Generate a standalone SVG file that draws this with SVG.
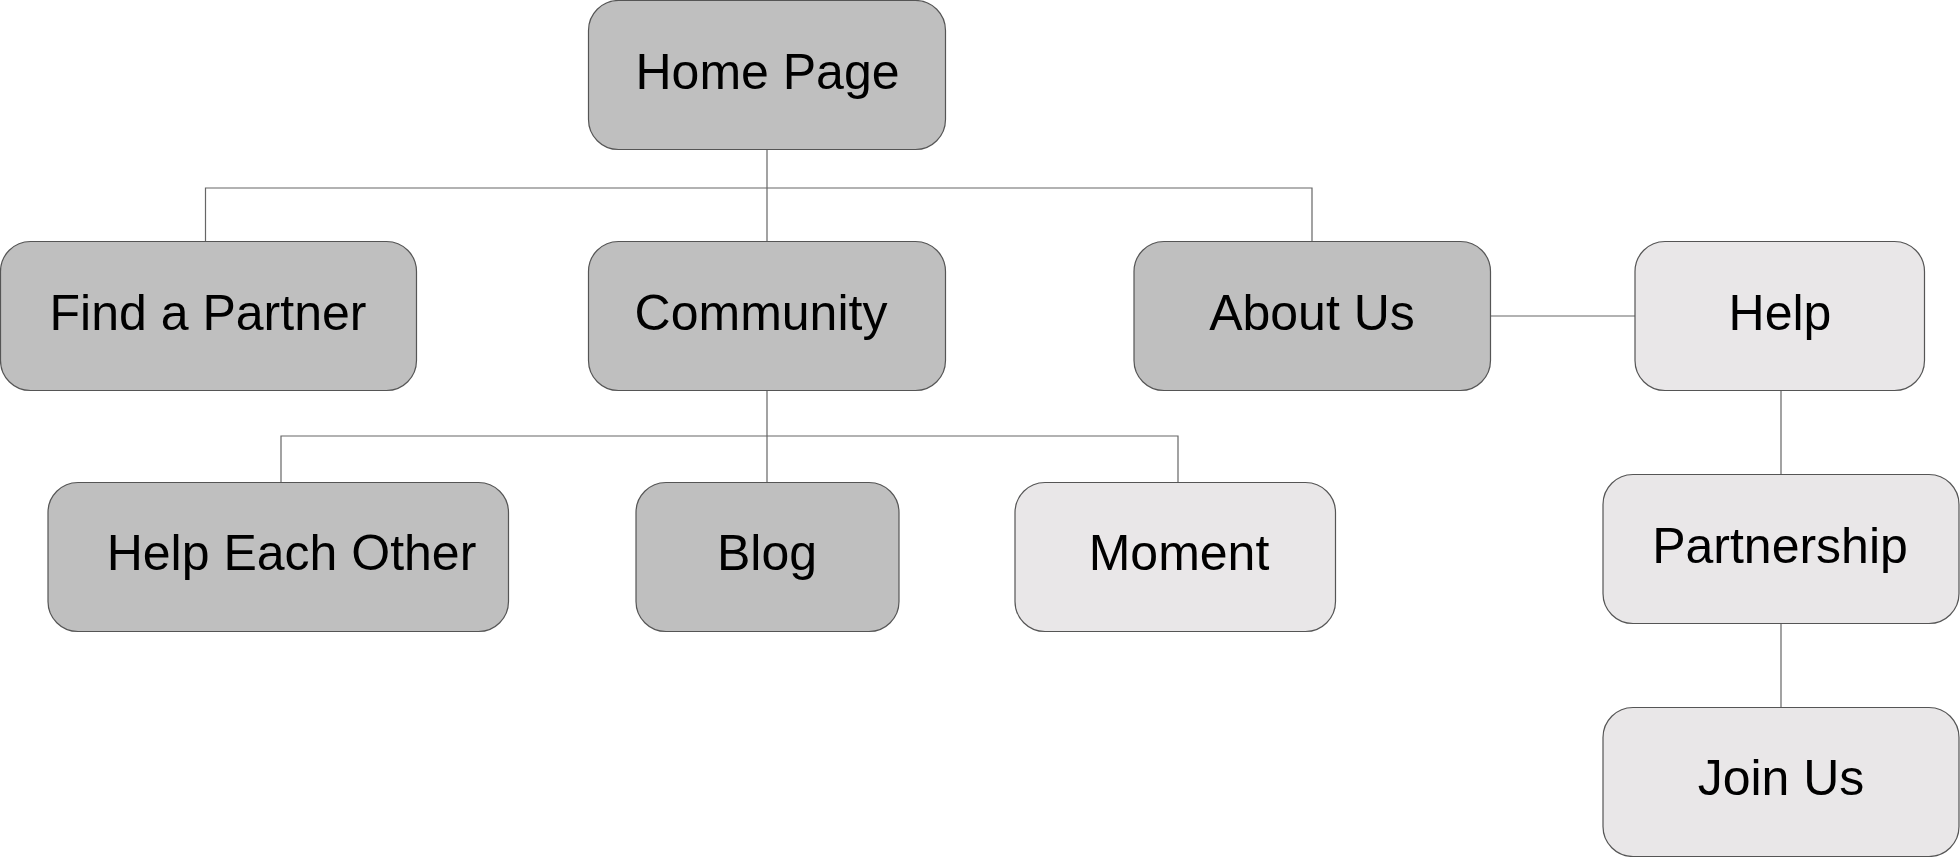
<svg xmlns="http://www.w3.org/2000/svg" width="1960" height="857" viewBox="0 0 1960 857">
<style>
.dark{fill:#bfbfbf;stroke:#555;stroke-width:1.2}
.light{fill:#e9e7e8;stroke:#555;stroke-width:1.2}
.lbl{font-family:"Liberation Sans",Arial,sans-serif;font-size:50px;fill:#000;text-anchor:middle}
.conn{fill:none;stroke:#666;stroke-width:1.2}
</style>
<rect width="1960" height="857" fill="#fff"/>
<g id="connectors">
<path class="conn" d="M767,150 V241 M205.5,241 V188 H1312 V241"/>
<path class="conn" d="M767,390 V482 M281,482 V436 H1178 V482"/>
<path class="conn" d="M1490.5,316 H1635"/>
<path class="conn" d="M1781,390 V474 M1781,623 V707"/>
</g>
<g id="home"><rect class="dark" x="588.5" y="0.5" width="357" height="149" rx="30"/><text class="lbl" x="767.5" y="89">Home Page</text></g>
<g id="find"><rect class="dark" x="0.5" y="241.5" width="416" height="149" rx="30"/><text class="lbl" x="208" y="330">Find a Partner</text></g>
<g id="community"><rect class="dark" x="588.5" y="241.5" width="357" height="149" rx="30"/><text class="lbl" x="761" y="330">Community</text></g>
<g id="about"><rect class="dark" x="1134" y="241.5" width="356.5" height="149" rx="30"/><text class="lbl" x="1312" y="330">About Us</text></g>
<g id="help"><rect class="light" x="1635" y="241.5" width="289.5" height="149" rx="30"/><text class="lbl" x="1780" y="330">Help</text></g>
<g id="helpeach"><rect class="dark" x="48" y="482.5" width="460.5" height="149" rx="30"/><text class="lbl" x="291.5" y="570">Help Each Other</text></g>
<g id="blog"><rect class="dark" x="636" y="482.5" width="263" height="149" rx="30"/><text class="lbl" x="767" y="570">Blog</text></g>
<g id="moment"><rect class="light" x="1015" y="482.5" width="320.5" height="149" rx="30"/><text class="lbl" x="1179" y="570">Moment</text></g>
<g id="partnership"><rect class="light" x="1603" y="474.5" width="356" height="149" rx="30"/><text class="lbl" x="1780" y="563">Partnership</text></g>
<g id="join"><rect class="light" x="1603" y="707.5" width="356" height="149" rx="30"/><text class="lbl" x="1781" y="795">Join Us</text></g>
</svg>
